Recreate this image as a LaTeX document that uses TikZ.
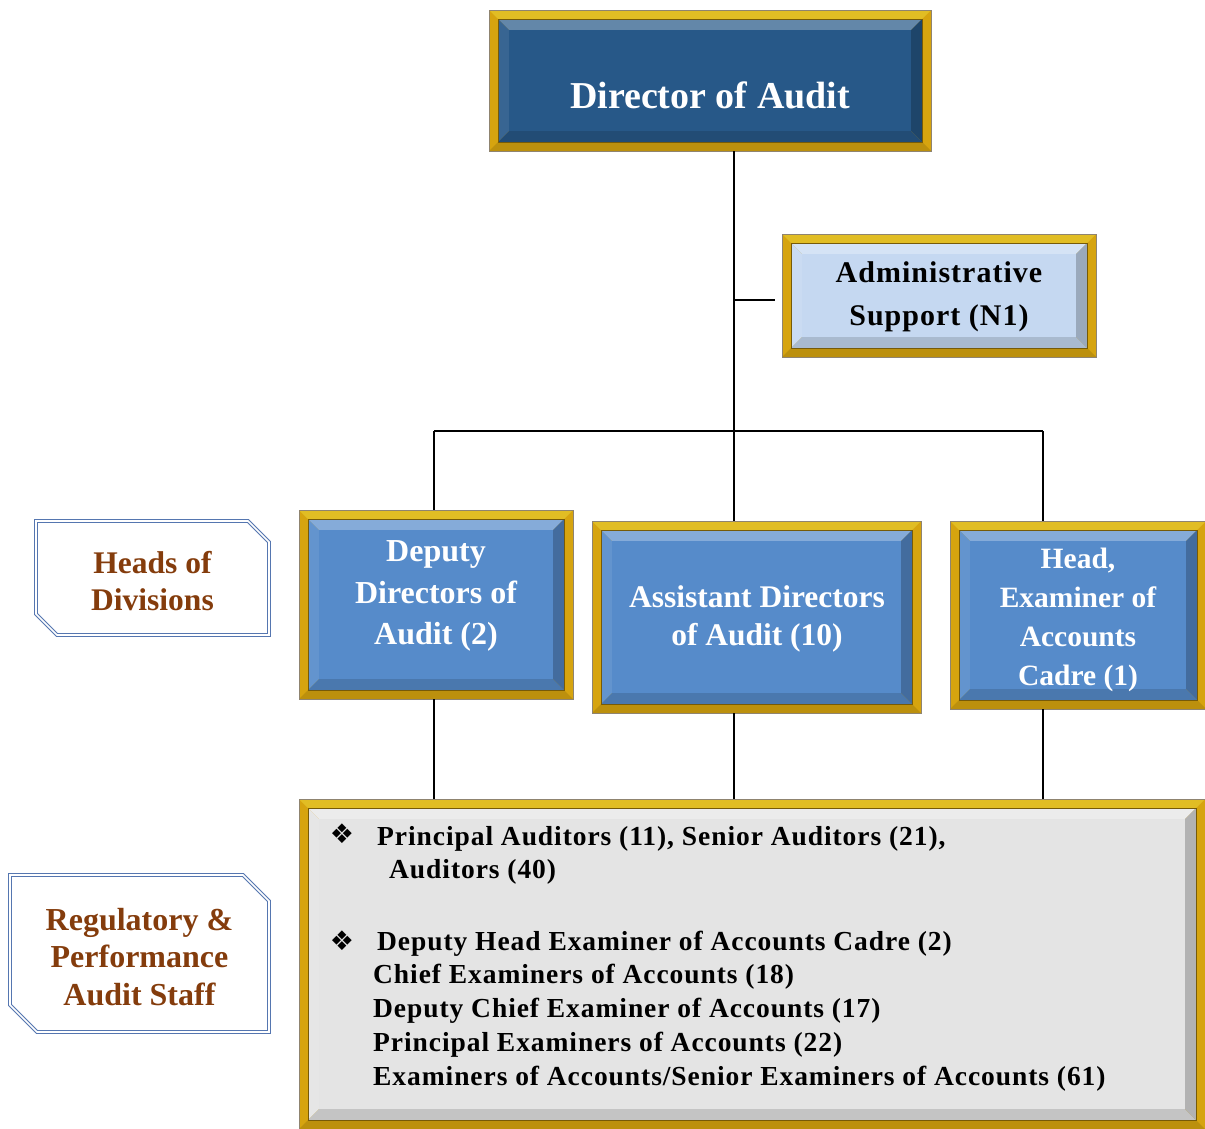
\documentclass[tikz,border=0pt]{standalone}
\usepackage{fontspec}
\setmainfont{Liberation Serif}
\newfontfamily\spacedfont{Liberation Serif}[LetterSpace=3.4]
\newfontfamily\symfont{DejaVu Sans}
\usetikzlibrary{calc}

\definecolor{gold}{HTML}{D6A40F}
\definecolor{framegray}{HTML}{8F8470}
\definecolor{dirblue}{HTML}{275888}
\definecolor{midblue}{HTML}{568BCA}
\definecolor{paleblue}{HTML}{C5D8F1}
\definecolor{panelgray}{HTML}{E4E4E4}
\definecolor{labblue}{HTML}{5576B0}
\definecolor{labbrown}{HTML}{843C0C}

\tikzset{
  % gold frame with a bevelled panel inside, #1 = panel colour
  bevel/.style={rectangle, inner sep=0pt, outer sep=0pt, fill=gold,
    draw=framegray, line width=0.8pt,
    path picture={
      \coordinate (pA) at ([shift={(9pt,9pt)}]path picture bounding box.south west);
      \coordinate (pC) at ([shift={(-9pt,-9pt)}]path picture bounding box.north east);
      \coordinate (pB) at (pA -| pC);
      \coordinate (pD) at (pA |- pC);
      \coordinate (qa) at ([shift={(11pt,11pt)}]pA);
      \coordinate (qc) at ([shift={(-11pt,-11pt)}]pC);
      \coordinate (qb) at (qa -| qc);
      \coordinate (qd) at (qa |- qc);
      \fill[gold!80!yellow!90!white] (path picture bounding box.north west) -- (path picture bounding box.north east) -- (pC) -- (pD) -- cycle;
      \fill[gold!88!black] (path picture bounding box.south west) -- (path picture bounding box.south east) -- (pB) -- (pA) -- cycle;
      \fill[#1!72!white] (pD) -- (pC) -- (qc) -- (qd) -- cycle;
      \fill[#1!92!white] (pA) -- (pD) -- (qd) -- (qa) -- cycle;
      \fill[#1!86!black] (pA) -- (pB) -- (qb) -- (qa) -- cycle;
      \fill[#1!78!black] (pB) -- (pC) -- (qc) -- (qb) -- cycle;
      \fill[#1] (qa) rectangle (qc);
      \draw[gold!55!black, line width=0.7pt] (pA) rectangle (pC);
    }},
  whitetext/.style={align=center, text=white, inner sep=0pt},
  labelbox/.style={rectangle, inner sep=0pt, outer sep=0pt},
  labeltext/.style={align=center, inner sep=0pt, text=labbrown},
  labframe/.style={draw=labblue, double=white, double distance=1.6pt, line width=1.1pt},
  stafftext/.style={anchor=base west, inner sep=0pt,
    font={\spacedfont\bfseries\fontsize{27.5}{30}\selectfont}},
  bulletmark/.style={inner sep=0pt, font={\symfont\fontsize{27}{27}\selectfont}},
  link/.style={line width=1.6pt, black},
}

\begin{document}
\begin{tikzpicture}[x=1pt,y=-1pt]
\useasboundingbox (0,0) rectangle (1205,1128);

% boxes
\node[bevel=dirblue, minimum width=442pt, minimum height=141pt] (dir) at (710,80.5) {};
\node[bevel=paleblue, minimum width=314pt, minimum height=123pt] (admin) at (939,295.5) {};
\node[bevel=midblue, minimum width=274pt, minimum height=189pt] (dep) at (436,604.5) {};
\node[bevel=midblue, minimum width=329pt, minimum height=192pt] (asst) at (756.5,617) {};
\node[bevel=midblue, minimum width=256pt, minimum height=188pt] (head) at (1078,615) {};
\node[bevel=panelgray, minimum width=906pt, minimum height=330pt] (staff) at (752,964) {};

% box titles
\node[whitetext, anchor=base, font={\fontsize{38}{44}\selectfont\bfseries}] (dir-t) at (710,108) {Director of Audit};
\node[align=center, inner sep=0pt, font={\spacedfont\bfseries\fontsize{30}{43.4}\selectfont}] (admin-t) at (939,297) {Administrative\\Support (N1)};
\node[whitetext, font={\fontsize{32}{41.7}\selectfont\bfseries}] (dep-t) at (436,596) {Deputy\\Directors of\\Audit (2)};
\node[whitetext, font={\fontsize{31.5}{38.5}\selectfont\bfseries}] (asst-t) at (757,619) {Assistant Directors\\of Audit (10)};
\node[whitetext, font={\fontsize{29.5}{39}\selectfont\bfseries}] (head-t) at (1078,620) {Head,\\Examiner of\\Accounts\\Cadre (1)};

% side labels
\node[labelbox, minimum width=233pt, minimum height=114pt] (lab1) at (152.5,578) {};
\node[labelbox, minimum width=259pt, minimum height=157pt] (lab2) at (139.5,953.5) {};
\node[labeltext, font={\fontsize{31.5}{37.3}\selectfont\bfseries}] (lab1-t) at (152.5,581) {Heads of\\Divisions};
\node[labeltext, font={\fontsize{32}{37.3}\selectfont\bfseries}] (lab2-t) at (139.5,957) {Regulatory \&\\Performance\\Audit Staff};
\draw[labframe] (lab1.north west) -- ([xshift=-21pt]lab1.north east) -- ([yshift=-21pt]lab1.north east)
  -- (lab1.south east) -- ([xshift=21pt]lab1.south west) -- ([yshift=21pt]lab1.south west) -- cycle;
\draw[labframe] (lab2.north west) -- ([xshift=-26pt]lab2.north east) -- ([yshift=-26pt]lab2.north east)
  -- (lab2.south east) -- ([xshift=27pt]lab2.south west) -- ([yshift=27pt]lab2.south west) -- cycle;

% staff list
\node[bulletmark] (k1) at (342,834) {❖};
\node[stafftext] (s1) at (377,845) {Principal Auditors (11), Senior Auditors (21),};
\node[stafftext] (s2) at (389,878) {Auditors (40)};
\node[bulletmark] (k2) at (342,941) {❖};
\node[stafftext] (s3) at (377,950) {Deputy Head Examiner of Accounts Cadre (2)};
\node[stafftext] (s4) at (373,983.5) {Chief Examiners of Accounts (18)};
\node[stafftext] (s5) at (373,1017) {Deputy Chief Examiner of Accounts (17)};
\node[stafftext] (s6) at (373,1051) {Principal Examiners of Accounts (22)};
\node[stafftext] (s7) at (373,1085) {Examiners of Accounts/Senior Examiners of Accounts (61)};

% connectors
\coordinate (bl) at (434,431);
\coordinate (bm) at (734,431);
\coordinate (br) at (1043,431);
\draw[link] (dir.south -| bm) -- (bm);
\draw[link] (bm |- 0,300) -- ([xshift=-7pt]admin.west |- 0,300);
\draw[link] (bl) -- (br);
\draw[link] (bl) -- (bl |- dep.north);
\draw[link] (bm) -- (bm |- asst.north);
\draw[link] (br) -- (br |- head.north);
\draw[link] (bl |- dep.south) -- (bl |- staff.north);
\draw[link] (bm |- asst.south) -- (bm |- staff.north);
\draw[link] (br |- head.south) -- (br |- staff.north);
\end{tikzpicture}
\end{document}
